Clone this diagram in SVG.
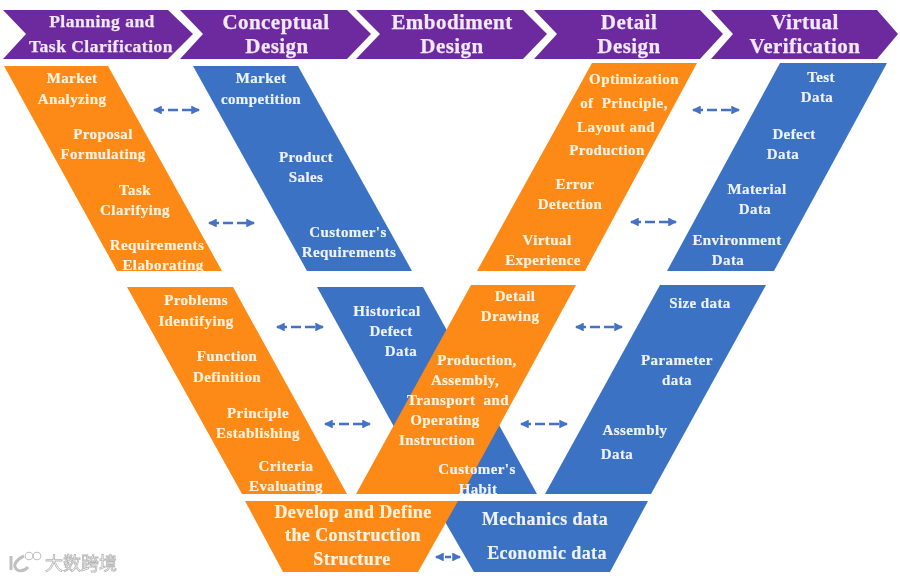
<svg xmlns="http://www.w3.org/2000/svg" width="900" height="580" viewBox="0 0 900 580">
<defs>
<style>
text{font-family:"Liberation Serif","Noto Sans CJK SC",serif;font-weight:700;text-anchor:middle}
.chev{fill:#6d2c9f}
.or{fill:#fd8a14}
.bl{fill:#3b72c4}
.h{fill:#f1e8fb;stroke:#f1e8fb;stroke-width:.25}
.h1{font-size:17.5px;letter-spacing:.5px}
.h2{font-size:21px;letter-spacing:.45px}
.t{font-size:15px;fill:#fff3e2;stroke:#fff3e2;stroke-width:.2;letter-spacing:.4px}
.b{font-size:15px;fill:#eef3fb;stroke:#eef3fb;stroke-width:.2;letter-spacing:.4px}
.l{font-size:18px;letter-spacing:.4px}
.arr{stroke:#4472c4;stroke-width:2.6;stroke-dasharray:10 4;fill:none;marker-start:url(#a);marker-end:url(#a)}
.wm{font-size:18px;fill:#fff;stroke:#b5b5b5;stroke-width:.8;font-weight:400;text-anchor:start}
</style>
<marker id="a" viewBox="0 0 8 8" refX="7" refY="4" markerWidth="3.4" markerHeight="3.4" orient="auto-start-reverse"><path d="M0 0L8 4L0 8z" fill="#4472c4"/></marker>
<filter id="s" x="-2%" y="-2%" width="104%" height="104%"><feGaussianBlur stdDeviation="0.45"/></filter>
</defs>
<rect width="900" height="580" fill="#fff"/>
<g filter="url(#s)">
<g id="stage-planning"><polygon class="chev" points="3,10 168,10 193,34 168,59 3,59 26,34"/><text class="h h1" x="102" y="27">Planning and</text><text class="h h1" x="101" y="52">Task Clarification</text></g>
<g id="stage-conceptual"><polygon class="chev" points="180,10 347,10 371,34 347,59 180,59 203,34"/><text class="h h2" x="276" y="29">Conceptual</text><text class="h h2" x="277" y="53">Design</text></g>
<g id="stage-embodiment"><polygon class="chev" points="356,10 523,10 547,34 523,59 356,59 380,34"/><text class="h h2" x="452" y="29">Embodiment</text><text class="h h2" x="452" y="53">Design</text></g>
<g id="stage-detail"><polygon class="chev" points="534,10 700,10 723,34 700,59 534,59 557,34"/><text class="h h2" x="629" y="29">Detail</text><text class="h h2" x="629" y="53">Design</text></g>
<g id="stage-virtual"><polygon class="chev" points="711,10 877,10 898,34 877,59 711,59 733,34"/><text class="h h2" x="805" y="29">Virtual</text><text class="h h2" x="805" y="53">Verification</text></g>

<g id="planning-tasks"><polygon class="or" points="4,66 108,66 222,271 117,271"/>
<text class="t" x="72" y="83">Market</text><text class="t" x="72" y="104">Analyzing</text><text class="t" x="103" y="139">Proposal</text><text class="t" x="103" y="159">Formulating</text><text class="t" x="135" y="195">Task</text><text class="t" x="135" y="215">Clarifying</text><text class="t" x="157" y="250">Requirements</text><text class="t" x="163" y="270">Elaborating</text></g>
<g id="planning-data"><polygon class="bl" points="193,66 298,66 412,271 307,271"/>
<text class="b" x="261" y="83">Market</text><text class="b" x="261" y="104">competition</text><text class="b" x="306" y="162">Product</text><text class="b" x="306" y="182">Sales</text><text class="b" x="348" y="237">Customer's</text><text class="b" x="349" y="257">Requirements</text></g>
<g id="detail-tasks"><polygon class="or" points="592,63 697,63 585,271 477,271"/>
<text class="t" x="634" y="84">Optimization</text><text class="t" x="624" y="108" xml:space="preserve">of  Principle,</text><text class="t" x="616" y="132">Layout and</text><text class="t" x="607" y="155">Production</text><text class="t" x="575" y="189">Error</text><text class="t" x="570" y="209">Detection</text><text class="t" x="547" y="245">Virtual</text><text class="t" x="543" y="265">Experience</text></g>
<g id="detail-data"><polygon class="bl" points="780,63 887,63 774,271 667,271"/>
<text class="b" x="821" y="82">Test</text><text class="b" x="817" y="102">Data</text><text class="b" x="794" y="139">Defect</text><text class="b" x="783" y="159">Data</text><text class="b" x="757" y="194">Material</text><text class="b" x="755" y="214">Data</text><text class="b" x="737" y="245">Environment</text><text class="b" x="728" y="265">Data</text></g>

<g id="conceptual-tasks"><polygon class="or" points="127,287 233,287 347,494 242,494"/>
<text class="t" x="196" y="305">Problems</text><text class="t" x="196" y="326">Identifying</text><text class="t" x="227" y="361">Function</text><text class="t" x="227" y="382">Definition</text><text class="t" x="258" y="418">Principle</text><text class="t" x="258" y="438">Establishing</text><text class="t" x="286" y="471">Criteria</text><text class="t" x="286" y="491">Evaluating</text></g>
<g id="conceptual-data"><polygon class="bl" points="317,287 423,287 537,494 431,494"/>
<text class="b" x="387" y="316">Historical</text><text class="b" x="391" y="336">Defect</text><text class="b" x="401" y="356">Data</text></g>
<g id="embodiment-tasks"><polygon class="or" points="471,285 576,285 462,494 356,494"/>
<text class="t" x="515" y="301">Detail</text><text class="t" x="510" y="321">Drawing</text><text class="t" x="477" y="365">Production,</text><text class="t" x="465" y="385">Assembly,</text><text class="t" x="458" y="405" xml:space="preserve">Transport  and</text><text class="t" x="445" y="425">Operating</text><text class="t" x="437" y="445">Instruction</text></g>
<g id="customer-habit"><text class="b" x="477" y="474">Customer's</text><text class="b" x="478" y="494">Habit</text></g>
<g id="embodiment-data"><polygon class="bl" points="660,285 766,285 651,494 545,494"/>
<text class="b" x="700" y="308">Size data</text><text class="b" x="677" y="365">Parameter</text><text class="b" x="677" y="385">data</text><text class="b" x="635" y="435">Assembly</text><text class="b" x="617" y="459">Data</text></g>

<g id="structure-data"><polygon class="bl" points="433,501 648,501 610,572 474,572"/>
<text class="b l" x="545" y="525">Mechanics data</text><text class="b l" x="547" y="559">Economic data</text></g>
<g id="structure-task"><polygon class="or" points="245,501 458,501 418,572 283,572"/>
<text class="t l" x="353" y="518">Develop and Define</text><text class="t l" x="353" y="541">the Construction</text><text class="t l" x="352" y="565">Structure</text></g>

<g id="connectors">
<line class="arr" x1="154" y1="110" x2="199" y2="110"/>
<line class="arr" x1="209" y1="223" x2="254" y2="223"/>
<line class="arr" x1="693" y1="110" x2="739" y2="110"/>
<line class="arr" x1="631" y1="222" x2="676" y2="222"/>
<line class="arr" x1="277" y1="327" x2="323" y2="327"/>
<line class="arr" x1="325" y1="424" x2="370" y2="424"/>
<line class="arr" x1="576" y1="327" x2="622" y2="327"/>
<line class="arr" x1="521" y1="424" x2="567" y2="424"/>
<line class="arr" x1="436" y1="557" x2="460" y2="557" style="stroke-dasharray:6 3"/>
</g>

<g id="watermark">
<path d="M11 556V570M24 556C17 559 14 564 15 567C17 572 24 572 28 567" fill="none" stroke="#c0c0c0" stroke-width="3"/>
<circle cx="29" cy="556" r="3.8" fill="#fff" stroke="#c0c0c0" stroke-width="1.1"/>
<circle cx="37" cy="556" r="3.8" fill="#fff" stroke="#c0c0c0" stroke-width="1.1"/>
<text class="wm" x="45" y="570">大数跨境</text>
</g>
</g>
</svg>
